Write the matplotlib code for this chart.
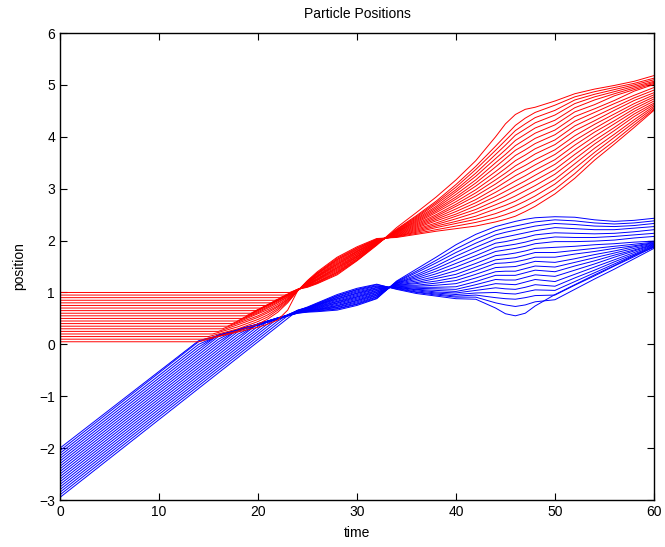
import numpy as np
import matplotlib.pyplot as plt

plt.rcParams['font.family'] = ['Liberation Sans', 'DejaVu Sans']

# sample times (same grid for both groups)
t = [0, 14, 16, 18, 20, 21, 22, 23, 24, 25, 26, 28, 30, 32, 34, 36, 38, 40,
     42, 44, 45, 46, 47, 48, 50, 52, 54, 56, 58, 60]

# red particles: start position and time they start moving
red_start = [0.05, 0.10, 0.15, 0.20, 0.25, 0.30, 0.35, 0.40, 0.45, 0.50,
             0.55, 0.60, 0.65, 0.70, 0.75, 0.80, 0.85, 0.90, 0.95, 1.00]
red_depart = [14.0, 14.5, 15.0, 15.4, 15.9, 16.4, 16.9, 17.4, 17.9, 18.4,
              18.8, 19.3, 19.8, 20.3, 20.8, 21.3, 21.7, 22.2, 22.7, 23.2]

# red positions, one row per time in t, one column per particle
red_y = [
    [.05, .10, .15, .20, .25, .30, .35, .40, .45, .50, .55, .60, .65, .70, .75, .80, .85, .90, .95, 1.00],
    [.05, .10, .15, .20, .25, .30, .35, .40, .45, .50, .55, .60, .65, .70, .75, .80, .85, .90, .95, 1.00],
    [.15, .16, .20, .23, .25, .30, .35, .40, .45, .50, .55, .60, .65, .70, .75, .80, .85, .90, .95, 1.00],
    [.24, .26, .30, .34, .38, .41, .43, .45, .46, .50, .55, .60, .65, .70, .75, .80, .85, .90, .95, 1.00],
    [.33, .39, .44, .48, .52, .55, .59, .61, .63, .65, .66, .67, .67, .70, .75, .80, .85, .90, .95, 1.00],
    [.39, .49, .53, .57, .61, .64, .67, .70, .72, .74, .76, .76, .76, .76, .77, .80, .85, .90, .95, 1.00],
    [.47, .62, .66, .69, .72, .74, .77, .80, .82, .84, .85, .85, .85, .86, .86, .86, .87, .90, .95, 1.00],
    [.66, .80, .82, .84, .86, .87, .89, .91, .92, .94, .95, .95, .95, .95, .95, .95, .96, .96, .97, 1.00],
    [1.03, 1.03, 1.03, 1.03, 1.04, 1.04, 1.04, 1.04, 1.04, 1.04, 1.05, 1.05, 1.05, 1.05, 1.05, 1.05, 1.06, 1.06, 1.06, 1.06],
    [1.23, 1.22, 1.21, 1.21, 1.20, 1.19, 1.19, 1.18, 1.18, 1.17, 1.16, 1.16, 1.15, 1.14, 1.14, 1.13, 1.12, 1.12, 1.11, 1.10],
    [1.40, 1.38, 1.37, 1.36, 1.35, 1.33, 1.32, 1.31, 1.30, 1.29, 1.27, 1.26, 1.25, 1.24, 1.23, 1.21, 1.20, 1.19, 1.18, 1.17],
    [1.68, 1.66, 1.64, 1.63, 1.61, 1.59, 1.57, 1.55, 1.54, 1.52, 1.50, 1.48, 1.47, 1.45, 1.43, 1.41, 1.39, 1.38, 1.36, 1.34],
    [1.88, 1.86, 1.85, 1.83, 1.82, 1.80, 1.79, 1.78, 1.76, 1.75, 1.73, 1.72, 1.70, 1.69, 1.68, 1.66, 1.65, 1.63, 1.62, 1.61],
    [2.04, 2.03, 2.02, 2.02, 2.01, 2.00, 2.00, 1.99, 1.98, 1.98, 1.97, 1.97, 1.96, 1.95, 1.95, 1.94, 1.93, 1.93, 1.92, 1.91],
    [2.06, 2.07, 2.08, 2.08, 2.09, 2.10, 2.11, 2.12, 2.13, 2.14, 2.15, 2.16, 2.17, 2.17, 2.18, 2.19, 2.20, 2.21, 2.22, 2.25],
    [2.12, 2.14, 2.16, 2.18, 2.20, 2.22, 2.24, 2.26, 2.28, 2.30, 2.32, 2.34, 2.36, 2.38, 2.40, 2.42, 2.44, 2.46, 2.48, 2.54],
    [2.18, 2.21, 2.25, 2.28, 2.31, 2.34, 2.38, 2.41, 2.44, 2.47, 2.50, 2.54, 2.57, 2.60, 2.63, 2.66, 2.70, 2.73, 2.76, 2.84],
    [2.23, 2.28, 2.33, 2.37, 2.42, 2.47, 2.51, 2.56, 2.61, 2.66, 2.70, 2.75, 2.80, 2.84, 2.89, 2.94, 2.98, 3.03, 3.08, 3.17],
    [2.28, 2.35, 2.41, 2.47, 2.54, 2.60, 2.67, 2.73, 2.79, 2.86, 2.92, 2.98, 3.05, 3.11, 3.17, 3.24, 3.30, 3.37, 3.43, 3.54],
    [2.36, 2.44, 2.52, 2.61, 2.69, 2.77, 2.85, 2.93, 3.01, 3.09, 3.17, 3.25, 3.33, 3.42, 3.50, 3.58, 3.66, 3.74, 3.82, 4.00],
    [2.41, 2.50, 2.59, 2.68, 2.77, 2.86, 2.95, 3.04, 3.13, 3.22, 3.30, 3.39, 3.48, 3.58, 3.66, 3.75, 3.84, 3.93, 4.02, 4.25],
    [2.47, 2.57, 2.67, 2.76, 2.86, 2.96, 3.05, 3.15, 3.25, 3.35, 3.44, 3.54, 3.64, 3.74, 3.83, 3.93, 4.03, 4.12, 4.22, 4.43],
    [2.56, 2.66, 2.76, 2.86, 2.96, 3.06, 3.15, 3.25, 3.35, 3.45, 3.55, 3.65, 3.75, 3.85, 3.95, 4.05, 4.15, 4.25, 4.36, 4.53],
    [2.66, 2.76, 2.86, 2.96, 3.06, 3.16, 3.26, 3.36, 3.46, 3.56, 3.67, 3.77, 3.87, 3.97, 4.07, 4.17, 4.27, 4.37, 4.47, 4.57],
    [2.90, 2.99, 3.09, 3.18, 3.28, 3.37, 3.47, 3.56, 3.66, 3.75, 3.85, 3.94, 4.04, 4.13, 4.23, 4.32, 4.42, 4.51, 4.61, 4.69],
    [3.20, 3.29, 3.39, 3.48, 3.57, 3.66, 3.75, 3.84, 3.93, 4.02, 4.12, 4.21, 4.30, 4.39, 4.48, 4.56, 4.64, 4.71, 4.77, 4.83],
    [3.55, 3.63, 3.70, 3.78, 3.86, 3.93, 4.01, 4.09, 4.16, 4.24, 4.31, 4.39, 4.47, 4.54, 4.62, 4.71, 4.77, 4.82, 4.87, 4.92],
    [3.86, 3.92, 3.99, 4.05, 4.12, 4.18, 4.25, 4.31, 4.38, 4.44, 4.51, 4.57, 4.64, 4.70, 4.79, 4.83, 4.87, 4.91, 4.95, 4.99],
    [4.18, 4.23, 4.28, 4.33, 4.39, 4.44, 4.49, 4.54, 4.59, 4.64, 4.70, 4.75, 4.80, 4.88, 4.91, 4.94, 4.97, 5.00, 5.03, 5.07],
    [4.51, 4.53, 4.56, 4.59, 4.62, 4.65, 4.69, 4.73, 4.77, 4.81, 4.85, 4.90, 4.95, 5.01, 5.03, 5.05, 5.07, 5.10, 5.13, 5.18],
]

# blue positions, one row per time in t, one column per particle
blue_y = [
    [-2.95, -2.90, -2.85, -2.80, -2.75, -2.70, -2.65, -2.60, -2.55, -2.50, -2.45, -2.40, -2.35, -2.30, -2.25, -2.20, -2.15, -2.10, -2.05, -2.00],
    [-.85, -.80, -.75, -.70, -.65, -.60, -.55, -.50, -.45, -.40, -.35, -.30, -.25, -.20, -.15, -.10, -.05, .00, .05, .07],
    [-.55, -.50, -.45, -.40, -.35, -.30, -.25, -.20, -.15, -.10, -.05, .00, .05, .10, .15, .18, .18, .17, .17, .17],
    [-.25, -.20, -.15, -.10, -.05, .00, .05, .10, .15, .20, .25, .29, .29, .29, .28, .28, .28, .28, .27, .27],
    [.05, .10, .15, .20, .25, .30, .35, .40, .40, .39, .39, .39, .39, .39, .38, .38, .38, .38, .37, .37],
    [.20, .25, .30, .35, .40, .45, .45, .45, .45, .45, .44, .44, .44, .44, .44, .44, .44, .43, .43, .43],
    [.35, .40, .45, .50, .51, .51, .51, .51, .50, .50, .50, .50, .50, .50, .50, .50, .49, .49, .49, .49],
    [.50, .55, .57, .57, .56, .56, .56, .56, .56, .56, .56, .56, .55, .55, .55, .55, .55, .55, .55, .55],
    [.65, .66, .65, .65, .65, .64, .64, .64, .64, .63, .63, .63, .62, .62, .62, .61, .61, .61, .60, .60],
    [.72, .71, .71, .70, .70, .69, .69, .68, .68, .67, .67, .66, .66, .65, .65, .64, .64, .63, .63, .62],
    [.80, .79, .78, .77, .76, .76, .75, .74, .73, .72, .71, .70, .69, .68, .67, .67, .66, .65, .64, .63],
    [.96, .94, .93, .91, .90, .88, .87, .85, .83, .82, .80, .79, .77, .75, .74, .72, .71, .69, .68, .66],
    [1.08, 1.06, 1.05, 1.03, 1.01, .99, .98, .96, .94, .92, .91, .89, .87, .85, .84, .82, .80, .78, .77, .75],
    [1.16, 1.15, 1.13, 1.12, 1.10, 1.09, 1.07, 1.06, 1.04, 1.03, 1.01, 1.00, .98, .97, .95, .94, .92, .91, .89, .88],
    [1.06, 1.07, 1.08, 1.09, 1.10, 1.10, 1.11, 1.12, 1.13, 1.14, 1.14, 1.15, 1.16, 1.17, 1.18, 1.18, 1.19, 1.20, 1.21, 1.22],
    [.98, 1.00, 1.01, 1.03, 1.05, 1.06, 1.08, 1.10, 1.12, 1.14, 1.17, 1.19, 1.22, 1.25, 1.28, 1.31, 1.34, 1.38, 1.41, 1.45],
    [.93, .95, .97, .99, 1.01, 1.04, 1.07, 1.10, 1.14, 1.18, 1.22, 1.27, 1.31, 1.36, 1.41, 1.46, 1.51, 1.57, 1.62, 1.68],
    [.88, .91, .93, .96, .99, 1.02, 1.06, 1.11, 1.17, 1.23, 1.29, 1.35, 1.42, 1.49, 1.56, 1.63, 1.70, 1.77, 1.84, 1.92],
    [.87, .91, .95, .99, 1.04, 1.09, 1.15, 1.21, 1.28, 1.35, 1.42, 1.49, 1.56, 1.64, 1.71, 1.79, 1.87, 1.95, 2.03, 2.12],
    [.70, .80, .90, 1.00, 1.09, 1.17, 1.25, 1.33, 1.40, 1.48, 1.56, 1.63, 1.71, 1.79, 1.87, 1.95, 2.03, 2.11, 2.19, 2.27],
    [.59, .76, .88, .98, 1.07, 1.16, 1.24, 1.33, 1.41, 1.49, 1.57, 1.65, 1.73, 1.82, 1.90, 1.98, 2.07, 2.16, 2.24, 2.32],
    [.55, .73, .87, .97, 1.06, 1.15, 1.24, 1.33, 1.41, 1.50, 1.59, 1.67, 1.76, 1.85, 1.93, 2.02, 2.11, 2.20, 2.28, 2.37],
    [.60, .76, .90, 1.01, 1.10, 1.20, 1.29, 1.38, 1.46, 1.55, 1.63, 1.72, 1.80, 1.89, 1.97, 2.06, 2.15, 2.24, 2.32, 2.41],
    [.74, .82, .94, 1.05, 1.15, 1.25, 1.34, 1.43, 1.51, 1.60, 1.68, 1.77, 1.85, 1.94, 2.02, 2.11, 2.19, 2.28, 2.36, 2.44],
    [.96, .86, .95, 1.04, 1.12, 1.21, 1.31, 1.40, 1.49, 1.58, 1.68, 1.77, 1.87, 1.98, 2.07, 2.15, 2.25, 2.33, 2.40, 2.46],
    [1.15, 1.06, 1.14, 1.21, 1.28, 1.35, 1.43, 1.51, 1.58, 1.65, 1.74, 1.81, 1.89, 1.98, 2.06, 2.14, 2.23, 2.31, 2.38, 2.45],
    [1.34, 1.26, 1.32, 1.38, 1.43, 1.49, 1.55, 1.61, 1.67, 1.73, 1.79, 1.85, 1.92, 1.99, 2.06, 2.13, 2.21, 2.28, 2.34, 2.40],
    [1.52, 1.45, 1.51, 1.55, 1.59, 1.63, 1.68, 1.72, 1.76, 1.80, 1.85, 1.89, 1.94, 2.01, 2.08, 2.14, 2.21, 2.27, 2.32, 2.37],
    [1.71, 1.65, 1.69, 1.72, 1.74, 1.77, 1.80, 1.82, 1.85, 1.88, 1.90, 1.93, 1.97, 2.05, 2.11, 2.17, 2.24, 2.29, 2.34, 2.39],
    [1.87, 1.85, 1.88, 1.89, 1.90, 1.91, 1.92, 1.93, 1.94, 1.95, 1.96, 1.97, 1.99, 2.08, 2.14, 2.21, 2.27, 2.33, 2.38, 2.43],
]

T = np.array(t, dtype=float)
R = np.array(red_y)
B = np.array(blue_y)

fig = plt.figure(figsize=(6.65, 5.47), dpi=100)
ax = fig.add_axes([0.0902, 0.0859, 0.8932, 0.8537])

# blue particles
for j in range(B.shape[1]):
    ax.plot(T, B[:, j], color='b', lw=0.7)

# red particles: sit still until they start moving
for i in range(R.shape[1]):
    p = red_start[i]
    d = red_depart[i]
    m = T > d
    x = np.r_[0, d, T[m]]
    y = np.r_[p, p, R[m, i]]
    ax.plot(x, y, color='r', lw=0.7)

ax.set_xlim(0, 60)
ax.set_ylim(-3, 6)
ax.set_xticks(range(0, 61, 10))
ax.set_yticks(range(-3, 7))
ax.tick_params(direction='in', top=True, right=True, length=5, width=0.8, labelsize=10)
for s in ax.spines.values():
    s.set_linewidth(1.0)
ax.set_title('Particle Positions', fontsize=10, pad=11)
ax.set_xlabel('time', fontsize=10, labelpad=5)
ax.set_ylabel('position', fontsize=10, labelpad=9)

fig.savefig('out.png', dpi=100)
